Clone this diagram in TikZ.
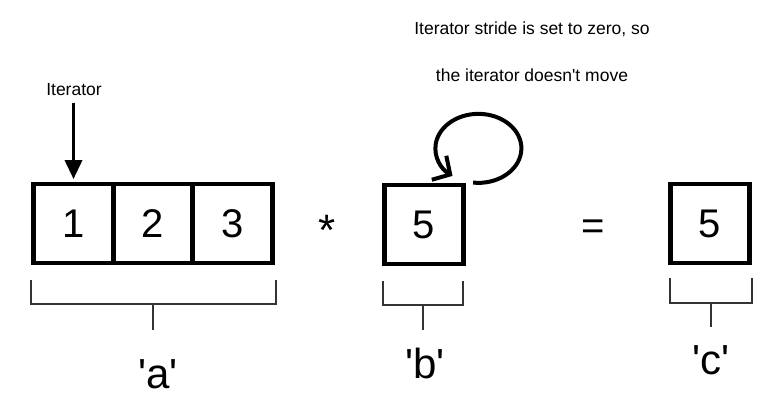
\documentclass[tikz,border=0pt]{standalone}
\usepackage{fontspec}
\setmainfont{Liberation Sans}
\usetikzlibrary{arrows.meta}

\tikzset{
    cell/.style={draw, line width=4.8pt, minimum width=79.5pt, minimum height=79pt,
                 inner sep=0pt, font=\fontsize{40}{44}\selectfont},
    bracketline/.style={draw=black!80, line width=2pt},
    varlabel/.style={anchor=base, font=\fontsize{42}{48}\selectfont},
    note/.style={anchor=base, font=\fontsize{17.5}{21}\selectfont},
    opsign/.style={anchor=base, font=\fontsize{#1}{#1}\selectfont},
}

\begin{document}
\begin{tikzpicture}[x=1pt, y=-1pt]
                \useasboundingbox (0,0) rectangle (784,419);

                % Caption above
                \node[note] (n1) at (532,35) {Iterator stride is set to zero, so};
                \node[note] (n2) at (532,82) {the iterator doesn\textquotesingle t move};

                % Array 'a'
                \foreach \i/\cx in {1/73.5, 2/153, 3/232.5} {
                    \node[cell] (a\i) at (\cx,223.5) {\i};
                }

                % Scalar 'b' and result 'c'
                \node[cell] (b) at (424,224.5) {5};
                \node[cell] (c) at (710,223.5) {5};
                \node[opsign=44] (times) at (327.5,246) {*};
                \node[opsign=40] (eq) at (593,240) {=};

                % Iterator pointer
                \node[note] (iter) at (74,96) {Iterator};
                \draw[line width=3.5pt, -{Triangle[length=19pt, width=17pt]},
                      shorten <=3pt, shorten >=2.5pt] (iter.south -| a1.north) -- (a1.north);

                % Stride zero: loop on 'b'
                \draw[line width=4pt, -{Straight Barb[length=13pt, width=28pt]}]
                    ([xshift=7pt]b.north east)
                    arc[start angle=97, end angle=-233, x radius=43, y radius=34.5];

                % Brackets under each operand
                \foreach \lx/\rx/\ty/\hy/\mx/\sy in {30.5/275.5/280/304.5/153/330,
                                                    383/463/281/305.5/423/330,
                                                    670/751.5/278/303/710.5/327} {
                    \draw[bracketline] (\lx,\ty) -- (\lx,\hy) -- (\rx,\hy) -- (\rx,\ty);
                    \draw[bracketline] (\mx,\hy) -- (\mx,\sy);
                }
                \node[varlabel] (la) at (158,388) {\textquotesingle a\textquotesingle};
                \node[varlabel] (lb) at (425,378) {\textquotesingle b\textquotesingle};
                \node[varlabel] (lc) at (711,374) {\textquotesingle c\textquotesingle};
            \end{tikzpicture}
\end{document}
